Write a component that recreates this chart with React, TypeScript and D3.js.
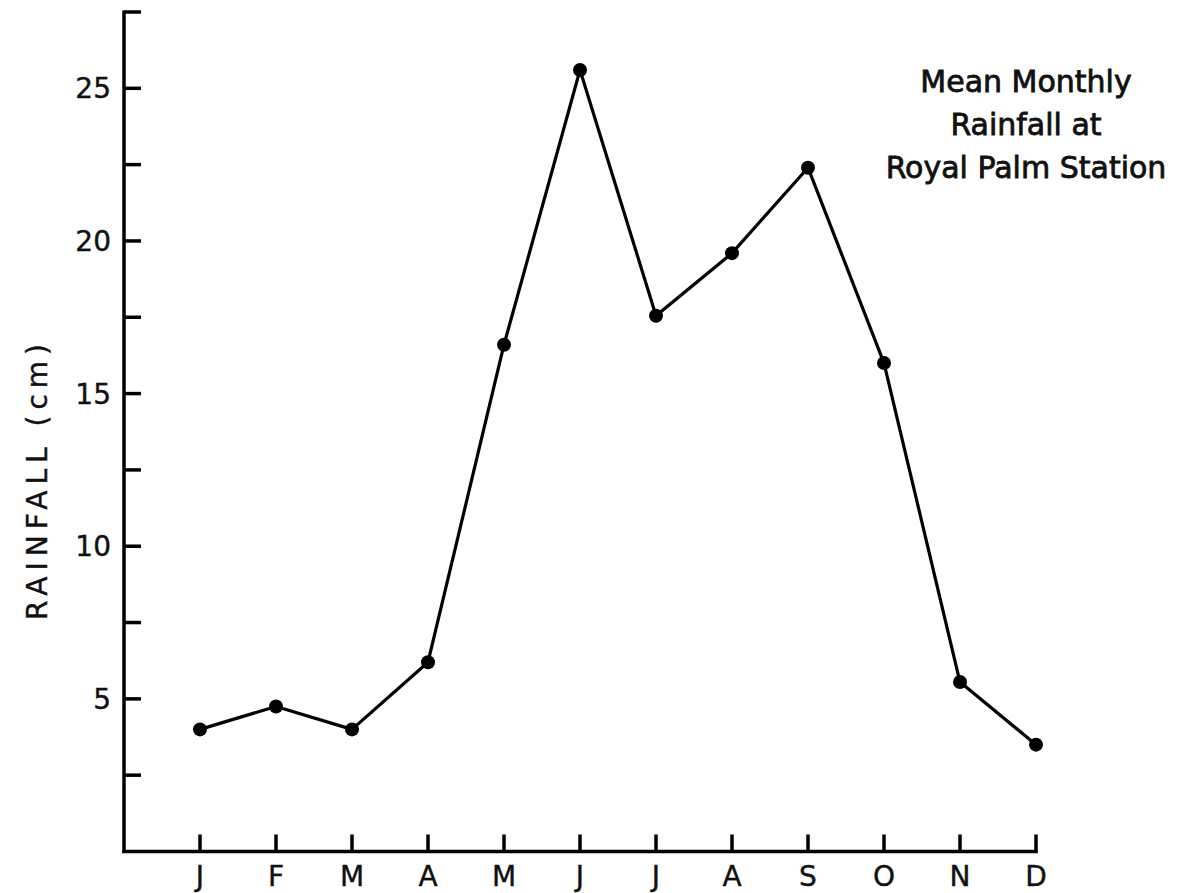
import React from "react";
import * as d3 from "d3";

const months = ["J", "F", "M", "A", "M", "J", "J", "A", "S", "O", "N", "D"];
const rainfall = [4.0, 4.75, 4.0, 6.2, 16.6, 25.6, 17.55, 19.6, 22.4, 16.0, 5.55, 3.5];
const yTicks = [2.5, 5, 7.5, 10, 12.5, 15, 17.5, 20, 22.5, 25, 27.5];
const yLabels = [5, 10, 15, 20, 25];
const titleLines = ["Mean Monthly", "Rainfall at", "Royal Palm Station"];
const yTitle = "RAINFALL (cm)";

const W = 1182;
const H = 893;
const FONT = "'DejaVu Sans', 'Noto Sans', sans-serif";

export default function App() {
  const idx = months.map((_, i) => i);
  const x = d3.scaleLinear().domain([0, 11]).range([200, 1036]);
  const y = d3.scaleLinear().domain([0, 27.5]).range([851.5, 12]);
  const axisX0 = 124;
  const axisY = y(0);
  const line = d3
    .line<number>()
    .x((i) => x(i))
    .y((i) => y(rainfall[i]));

  return (
    <svg
      width={W}
      height={H}
      style={{ position: "absolute", left: 0, top: 0, background: "#fff" }}
      fontFamily={FONT}
    >
      {/* y axis */}
      <line x1={axisX0} x2={axisX0} y1={y(27.5) - 1.5} y2={axisY + 1.5} stroke="#000" strokeWidth={3.5} />
      {yTicks.map((t) => (
        <line key={t} x1={axisX0} x2={axisX0 + 17} y1={y(t)} y2={y(t)} stroke="#000" strokeWidth={3.5} />
      ))}
      {yLabels.map((t) => (
        <text
          key={t}
          x={111}
          y={y(t)}
          dy="0.36em"
          textAnchor="end"
          fontSize={28}
          fill="#111"
          stroke="#111"
          strokeWidth={0.4}
        >
          {t}
        </text>
      ))}
      <text
        transform={`translate(47,${479}) rotate(-90)`}
        textAnchor="middle"
        fontSize={28}
        letterSpacing={6}
        fill="#111"
        stroke="#111"
        strokeWidth={0.4}
      >
        {yTitle}
      </text>
      {/* x axis */}
      <line x1={axisX0 - 1.75} x2={x(11) + 1.75} y1={axisY} y2={axisY} stroke="#000" strokeWidth={3.5} />
      {idx.map((i) => (
        <g key={i}>
          <line x1={x(i)} x2={x(i)} y1={axisY} y2={axisY - 17} stroke="#000" strokeWidth={3.5} />
          <text
            x={x(i)}
            y={axisY + 34}
            textAnchor="middle"
            fontSize={28}
            fill="#111"
            stroke="#111"
            strokeWidth={0.4}
          >
            {months[i]}
          </text>
        </g>
      ))}
      {/* data */}
      <path d={line(idx) || ""} fill="none" stroke="#000" strokeWidth={3.2} strokeLinejoin="round" />
      {idx.map((i) => (
        <circle key={i} cx={x(i)} cy={y(rainfall[i])} r={7} fill="#000" />
      ))}
      {/* title */}
      {titleLines.map((s, k) => (
        <text
          key={k}
          x={1026}
          y={92 + k * 43}
          textAnchor="middle"
          fontSize={30}
          fill="#111"
          stroke="#111"
          strokeWidth={0.8}
        >
          {s}
        </text>
      ))}
    </svg>
  );
}
